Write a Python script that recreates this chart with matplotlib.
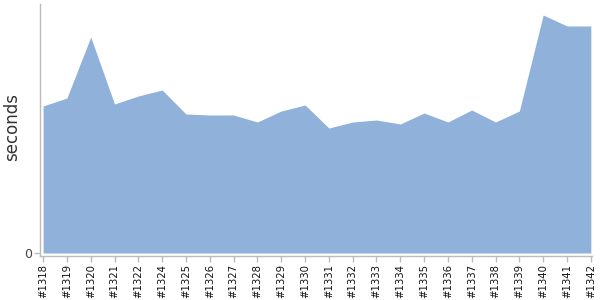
import matplotlib
matplotlib.use("Agg")
import matplotlib.pyplot as plt

builds = ["#1318", "#1319", "#1320", "#1321", "#1322", "#1324", "#1325", "#1326",
          "#1327", "#1328", "#1329", "#1330", "#1331", "#1332", "#1333", "#1334",
          "#1335", "#1336", "#1337", "#1338", "#1339", "#1340", "#1341", "#1342"]
seconds = [147, 155, 216, 149, 157, 163, 139, 138, 138, 131, 142, 148, 125, 131,
           133, 129, 140, 131, 143, 131, 142, 238, 227, 227]

fig = plt.figure(figsize=(6, 3), dpi=100)
ax = fig.add_axes([40 / 600, 44 / 300, 552 / 600, 252 / 300])
x = list(range(len(builds)))
ax.fill_between(x, 0, seconds, color="#8fb1da", linewidth=0)
ax.set_xlim(-0.13, len(builds) - 1 + 0.05)
ax.set_ylim(-3, 249)
ax.set_xticks(x)
ax.set_xticklabels(builds, rotation=90, fontsize=7.3, color="#111111")
ax.set_yticks([0])
ax.set_yticklabels(["0"], fontsize=9, color="#444444")
ax.set_ylabel("seconds", fontsize=12, color="#333333")
ax.yaxis.set_label_coords(-0.034, 0.51)
for s in ["top", "right"]:
    ax.spines[s].set_visible(False)
for s in ["left", "bottom"]:
    ax.spines[s].set_color("#bbbbbb")
    ax.spines[s].set_linewidth(1)
ax.tick_params(axis="both", colors="#bbbbbb", length=4, width=1, pad=2)
for t in ax.get_xticklabels():
    t.set_color("#111111")
for t in ax.get_yticklabels():
    t.set_color("#444444")
fig.savefig("out.png", dpi=100)
